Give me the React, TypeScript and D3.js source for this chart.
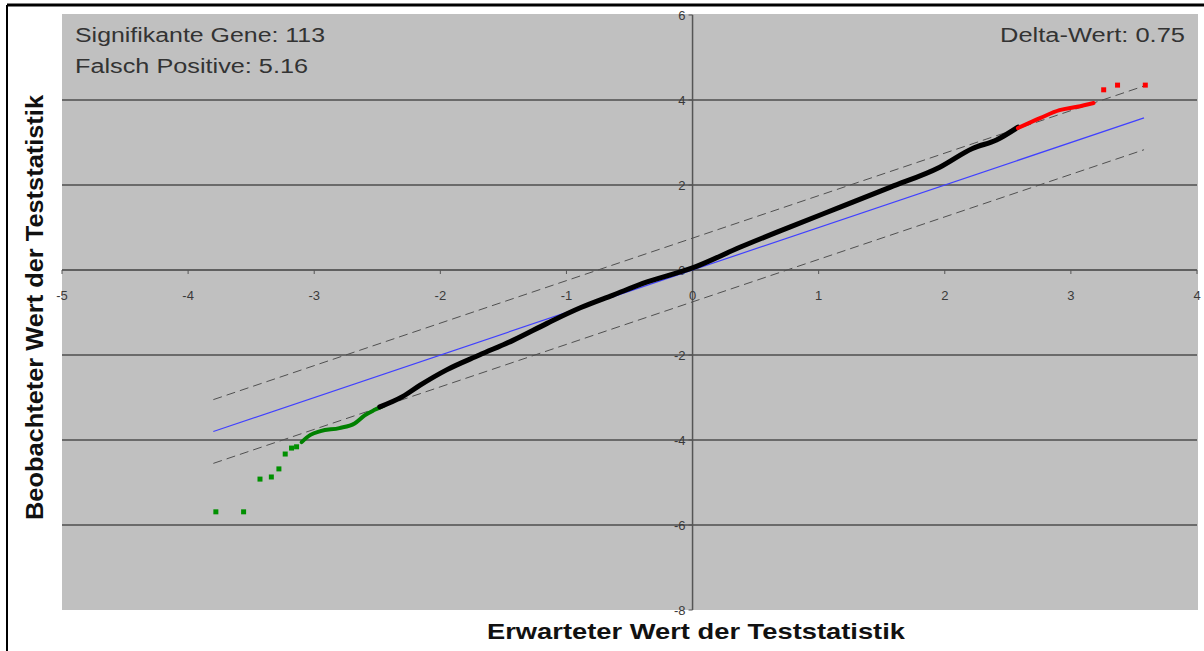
import React from "react";
import * as d3 from "d3";

// ---- data ----
const xTicks = [-5, -4, -3, -2, -1, 0, 1, 2, 3, 4];
const yTicks = [-8, -6, -4, -2, 0, 2, 4, 6];
const delta = 0.75;
const refRange = [-3.8, 3.58];

const blackCurve: [number, number][] = [
  [-2.48, -3.22], [-2.3, -2.98], [-2.16, -2.71], [-1.95, -2.35], [-1.69, -2.0], [-1.42, -1.65],
  [-1.15, -1.25], [-0.89, -0.89], [-0.63, -0.59], [-0.36, -0.28], [0, 0.05],
  [0.38, 0.54], [0.77, 1.01], [1.17, 1.48], [1.57, 1.95], [1.96, 2.42],
  [2.22, 2.86], [2.41, 3.06], [2.58, 3.36],
];
const greenCurve: [number, number][] = [
  [-3.1, -4.05], [-3.03, -3.88], [-2.95, -3.79], [-2.8, -3.72], [-2.68, -3.61],
  [-2.6, -3.42], [-2.52, -3.29], [-2.44, -3.18],
];
const greenPoints: [number, number][] = [
  [-3.78, -5.69], [-3.56, -5.69], [-3.43, -4.92], [-3.34, -4.87], [-3.28, -4.68],
  [-3.23, -4.33], [-3.18, -4.19], [-3.14, -4.16],
];
const redCurve: [number, number][] = [
  [2.58, 3.34], [2.76, 3.58], [2.91, 3.76], [3.05, 3.84], [3.18, 3.93],
];
const redPoints: [number, number][] = [[3.26, 4.24], [3.37, 4.35], [3.59, 4.35]];

const annotLeft = ["Signifikante Gene: 113", "Falsch Positive: 5.16"];
const annotRight = "Delta-Wert: 0.75";
const xTitle = "Erwarteter Wert der Teststatistik";
const yTitle = "Beobachteter Wert der Teststatistik";

export default function App() {
  const W = 1204, H = 651;
  const left = 62, right = 1197, top = 15, bottom = 610;
  const x = d3.scaleLinear().domain([-5, 4]).range([left, right]);
  const y = d3.scaleLinear().domain([-8, 6]).range([bottom, top]);
  const line = d3.line<[number, number]>().x(d => x(d[0])).y(d => y(d[1])).curve(d3.curveMonotoneX);
  const font = "Liberation Sans, Arial, sans-serif";
  const x0 = x(0), y0 = y(0);

  return (
    <svg width={W} height={H} style={{ position: "absolute", left: 0, top: 0 }} fontFamily={font}>
      <rect x={0} y={0} width={W} height={H} fill="#fff" />
      <line x1={7} y1={5} x2={W} y2={5} stroke="#000" strokeWidth={3} />
      <line x1={7} y1={5} x2={7} y2={H} stroke="#000" strokeWidth={2} />
      <rect x={left} y={top - 1} width={right - left + 1} height={bottom - top + 1} fill="#c0c0c0" />
      {/* gridlines */}
      {yTicks.filter(t => t !== -8 && t !== 6 && t !== 0).map(t => (
        <line key={t} x1={left} x2={right} y1={y(t)} y2={y(t)} stroke="#6a6a6a" strokeWidth={2} />
      ))}
      {/* axes */}
      <line x1={left} x2={right} y1={y0} y2={y0} stroke="#606060" strokeWidth={2} />
      <line x1={x0} x2={x0} y1={y(6)} y2={y(-8)} stroke="#555" strokeWidth={1.5} />
      {xTicks.map(t => (
        <line key={"xt" + t} x1={x(t)} x2={x(t)} y1={y0} y2={y0 + 4} stroke="#555" strokeWidth={1} />
      ))}
      {yTicks.map(t => (
        <line key={"yt" + t} x1={x0 - 4} x2={x0} y1={y(t)} y2={y(t)} stroke="#555" strokeWidth={1} />
      ))}
      {xTicks.map(t => (
        <text key={"xl" + t} x={x(t)} y={y0 + 30} textAnchor="middle" fontSize={13} fill="#3a3a3a">{t}</text>
      ))}
      {yTicks.map(t => (
        <text key={"yl" + t} x={x0 - 7} y={y(t) + 5} textAnchor="end" fontSize={13} fill="#3a3a3a">{t}</text>
      ))}
      {/* reference lines */}
      <line x1={x(refRange[0])} y1={y(refRange[0] + delta)} x2={x(refRange[1])} y2={y(refRange[1] + delta)}
        stroke="#505050" strokeWidth={1} strokeDasharray="9,5" />
      <line x1={x(refRange[0])} y1={y(refRange[0] - delta)} x2={x(refRange[1])} y2={y(refRange[1] - delta)}
        stroke="#505050" strokeWidth={1} strokeDasharray="9,5" />
      <line x1={x(refRange[0])} y1={y(refRange[0])} x2={x(refRange[1])} y2={y(refRange[1])}
        stroke="#4040ff" strokeWidth={1.2} />
      {/* data */}
      <path d={line(greenCurve) || ""} fill="none" stroke="#008000" strokeWidth={4} strokeLinecap="round" />
      {greenPoints.map((p, i) => (
        <rect key={"g" + i} x={x(p[0]) - 2.5} y={y(p[1]) - 2.5} width={5} height={5} fill="#009000" />
      ))}
      <path d={line(blackCurve) || ""} fill="none" stroke="#000" strokeWidth={5} strokeLinecap="round" />
      <path d={line(redCurve) || ""} fill="none" stroke="#ff0000" strokeWidth={4} strokeLinecap="round" />
      {redPoints.map((p, i) => (
        <rect key={"r" + i} x={x(p[0]) - 2.5} y={y(p[1]) - 2.5} width={5} height={5} fill="#ff0000" />
      ))}
      {/* annotations */}
      <text x={75} y={42} fontSize={20} fill="#333" textLength={250} lengthAdjust="spacingAndGlyphs">{annotLeft[0]}</text>
      <text x={75} y={73} fontSize={20} fill="#333" textLength={233} lengthAdjust="spacingAndGlyphs">{annotLeft[1]}</text>
      <text x={1000} y={42} fontSize={20} fill="#333" textLength={185} lengthAdjust="spacingAndGlyphs">{annotRight}</text>
      {/* titles */}
      <text x={487} y={639} fontSize={22} fontWeight="bold" fill="#111" textLength={418} lengthAdjust="spacingAndGlyphs">{xTitle}</text>
      <text transform={`translate(43,${520}) rotate(-90)`} fontSize={23} fontWeight="bold" fill="#111" textLength={425} lengthAdjust="spacingAndGlyphs">{yTitle}</text>
    </svg>
  );
}
